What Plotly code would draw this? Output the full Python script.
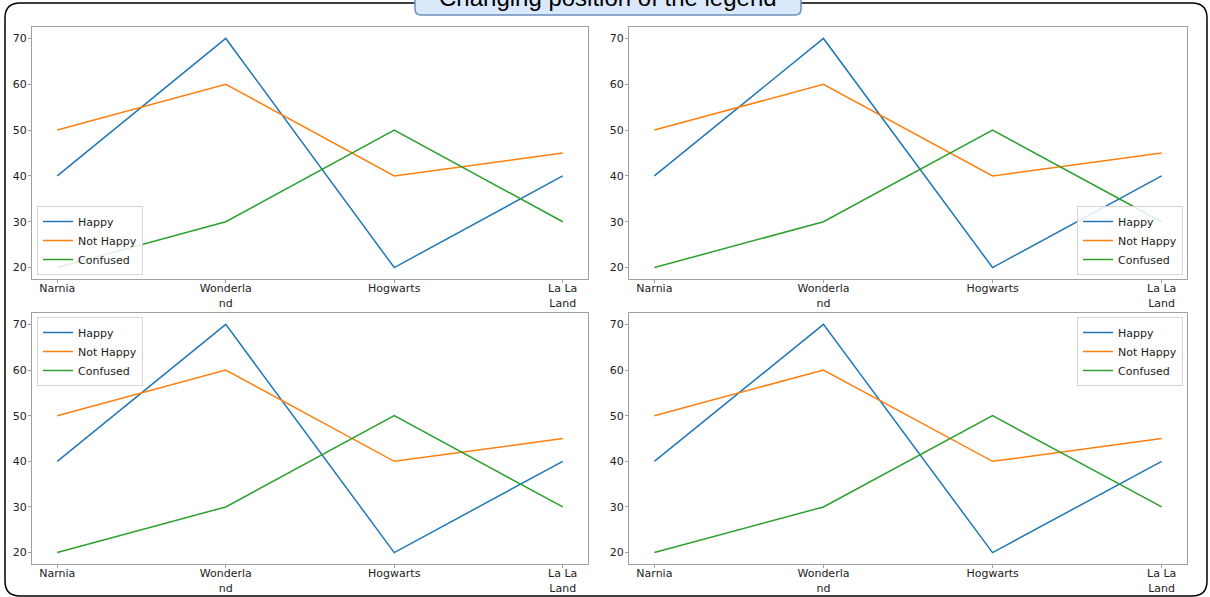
import plotly.graph_objects as go
from plotly.subplots import make_subplots

categories = ["Narnia", "Wonderla<br>nd", "Hogwarts", "La La<br>Land"]
happy = [40, 70, 20, 40]
not_happy = [50, 60, 40, 45]
confused = [20, 30, 50, 30]
series_names = ["Happy", "Not Happy", "Confused"]
series_colors = ["#1f77b4", "#ff7f0e", "#2ca02c"]
title_text = "Changing position of the legend"

W, H = 1210, 597
def px(v): return v / W
def py(v): return 1 - v / H

fig = make_subplots(rows=2, cols=2)

xdoms = [[px(32), px(588)], [px(629), px(1187)]]
ydoms = [[py(279), py(27)], [py(564), py(313)]]

legend_names = ["legend", "legend2", "legend3", "legend4"]
series = [happy, not_happy, confused]
idx = 0
for r in range(2):
    for c in range(2):
        for name, vals, col in zip(series_names, series, series_colors):
            fig.add_trace(go.Scatter(x=list(range(len(categories))), y=vals, mode="lines", name=name,
                                     line=dict(color=col, width=1.5),
                                     legend=legend_names[idx]),
                          row=r + 1, col=c + 1)
        idx += 1

axis_common = dict(showline=True, mirror=True, linecolor="#a0a0a0", linewidth=1,
                   ticks="outside", ticklen=3, tickcolor="#a0a0a0", tickwidth=1,
                   showgrid=False, zeroline=False,
                   tickfont=dict(family="DejaVu Sans", size=11, color="#222222"))

n = 0
for r in range(2):
    for c in range(2):
        n += 1
        xa = "xaxis" if n == 1 else f"xaxis{n}"
        ya = "yaxis" if n == 1 else f"yaxis{n}"
        fig.layout[xa].update(domain=xdoms[c], range=[-0.15, 3.15],
                              tickvals=list(range(len(categories))), ticktext=categories,
                              ticklabelstandoff=-4, **axis_common)
        fig.layout[ya].update(domain=ydoms[r], range=[17.5, 72.5],
                              tickvals=[20, 30, 40, 50, 60, 70], ticklabelstandoff=-1,
                              **axis_common)

leg_common = dict(bgcolor="rgba(255,255,255,0.85)", bordercolor="#d5d5d5", borderwidth=1,
                  font=dict(family="DejaVu Sans", size=11, color="#222222"),
                  tracegroupgap=0, itemwidth=30)

fig.update_layout(
    width=W, height=H,
    margin=dict(l=0, r=0, t=0, b=0),
    paper_bgcolor="white", plot_bgcolor="white",
    showlegend=True,
    legend=dict(x=px(37), y=py(275), xanchor="left", yanchor="bottom", **leg_common),
    legend2=dict(x=px(1183), y=py(275), xanchor="right", yanchor="bottom", **leg_common),
    legend3=dict(x=px(37), y=py(317), xanchor="left", yanchor="top", **leg_common),
    legend4=dict(x=px(1183), y=py(317), xanchor="right", yanchor="top", **leg_common),
)

# outer rounded border
x0, x1, y0, y1 = px(5), px(1207), py(3), py(596)
rx, ry = 15 / W, 15 / H
path = (f"M {x0+rx},{y0} L {x1-rx},{y0} Q {x1},{y0} {x1},{y0-ry} "
        f"L {x1},{y1+ry} Q {x1},{y1} {x1-rx},{y1} L {x0+rx},{y1} Q {x0},{y1} {x0},{y1+ry} "
        f"L {x0},{y0-ry} Q {x0},{y0} {x0+rx},{y0} Z")
fig.add_shape(type="path", path=path, xref="paper", yref="paper",
              line=dict(color="black", width=1.5), fillcolor="rgba(0,0,0,0)", layer="above")

# title box
bx0, bx1, by0, by1 = px(415), px(801), py(-20), py(15)
brx, bry = 6 / W, 6 / H
bpath = (f"M {bx0+brx},{by0} L {bx1-brx},{by0} Q {bx1},{by0} {bx1},{by0-bry} "
         f"L {bx1},{by1+bry} Q {bx1},{by1} {bx1-brx},{by1} L {bx0+brx},{by1} Q {bx0},{by1} {bx0},{by1+bry} "
         f"L {bx0},{by0-bry} Q {bx0},{by0} {bx0+brx},{by0} Z")
fig.add_shape(type="path", path=bpath, xref="paper", yref="paper",
              line=dict(color="#6c8ebf", width=1.5), fillcolor="#dae8fc", layer="above")

fig.add_annotation(text=title_text, x=px(608), y=py(-3), xref="paper", yref="paper",
                   xanchor="center", yanchor="middle", showarrow=False,
                   font=dict(family="Liberation Sans", size=24, color="black"))

fig.write_html("out.html", config={"displayModeBar": False},
               post_script="document.body.style.margin='0';document.body.style.overflow='hidden';")
